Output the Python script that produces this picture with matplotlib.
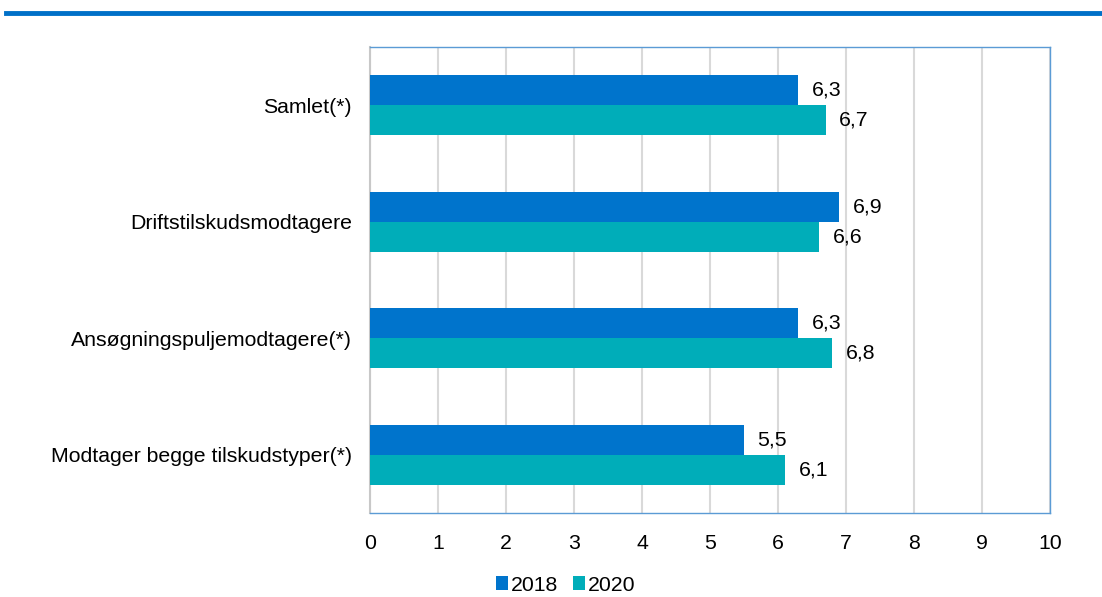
"""Horizontal grouped bar chart, 2018 vs 2020."""
import numpy as np
import matplotlib.pyplot as plt
from matplotlib.lines import Line2D

plt.rcParams['font.family'] = ['Liberation Sans', 'DejaVu Sans']

categories = ['Samlet(*)', 'Driftstilskudsmodtagere',
              'Ansøgningspuljemodtagere(*)', 'Modtager begge tilskudstyper(*)']
values_2018 = [6.3, 6.9, 6.3, 5.5]
values_2020 = [6.7, 6.6, 6.8, 6.1]
years = ['2018', '2020']
xticks = list(range(0, 11))

col_2018 = '#0074CC'
col_2020 = '#00ADB9'
fs = 15.3

fig = plt.figure(figsize=(11.02, 5.97), dpi=100)
ax = fig.add_axes([0.3358, 0.1407, 0.617, 0.7806])

# blue band on top of the figure
fig.add_artist(Line2D([0.005, 1.0], [0.978, 0.978], color='#0070C8',
                      linewidth=3.5, transform=fig.transFigure))

y = np.arange(len(categories))
h = 0.2575
ax.barh(y - h / 2, values_2018, height=h, color=col_2018, label=years[0], zorder=3)
ax.barh(y + h / 2, values_2020, height=h, color=col_2020, label=years[1], zorder=3)

for yi, v in zip(y, values_2018):
    ax.text(v + 0.2, yi - h / 2, f'{v:.1f}'.replace('.', ','), va='center',
            ha='left', fontsize=fs)
for yi, v in zip(y, values_2020):
    ax.text(v + 0.2, yi + h / 2, f'{v:.1f}'.replace('.', ','), va='center',
            ha='left', fontsize=fs)

ax.set_ylim(len(categories) - 0.5, -0.5)
ax.set_xlim(0, 10)
ax.set_yticks(y)
ax.set_yticklabels(categories, fontsize=fs)
ax.set_xticks(xticks)
ax.set_xticklabels([str(t) for t in xticks], fontsize=fs)
ax.tick_params(length=0)
ax.tick_params(axis='x', pad=15)
ax.tick_params(axis='y', pad=13)

ax.grid(axis='x', color='#D9D9D9', linewidth=1.5, zorder=0)
for s in ['top', 'right', 'bottom']:
    ax.spines[s].set_color('#5B9BD5')
    ax.spines[s].set_linewidth(1.0)
ax.spines['left'].set_color('#C8C8C8')
ax.spines['left'].set_linewidth(1.5)

fig.legend(loc='center', bbox_to_anchor=(0.513, 0.02), ncol=2, frameon=False,
           fontsize=fs, handlelength=0.6, handleheight=0.6, handletextpad=0.1,
           columnspacing=0.7)

fig.savefig('out.png', dpi=100)
